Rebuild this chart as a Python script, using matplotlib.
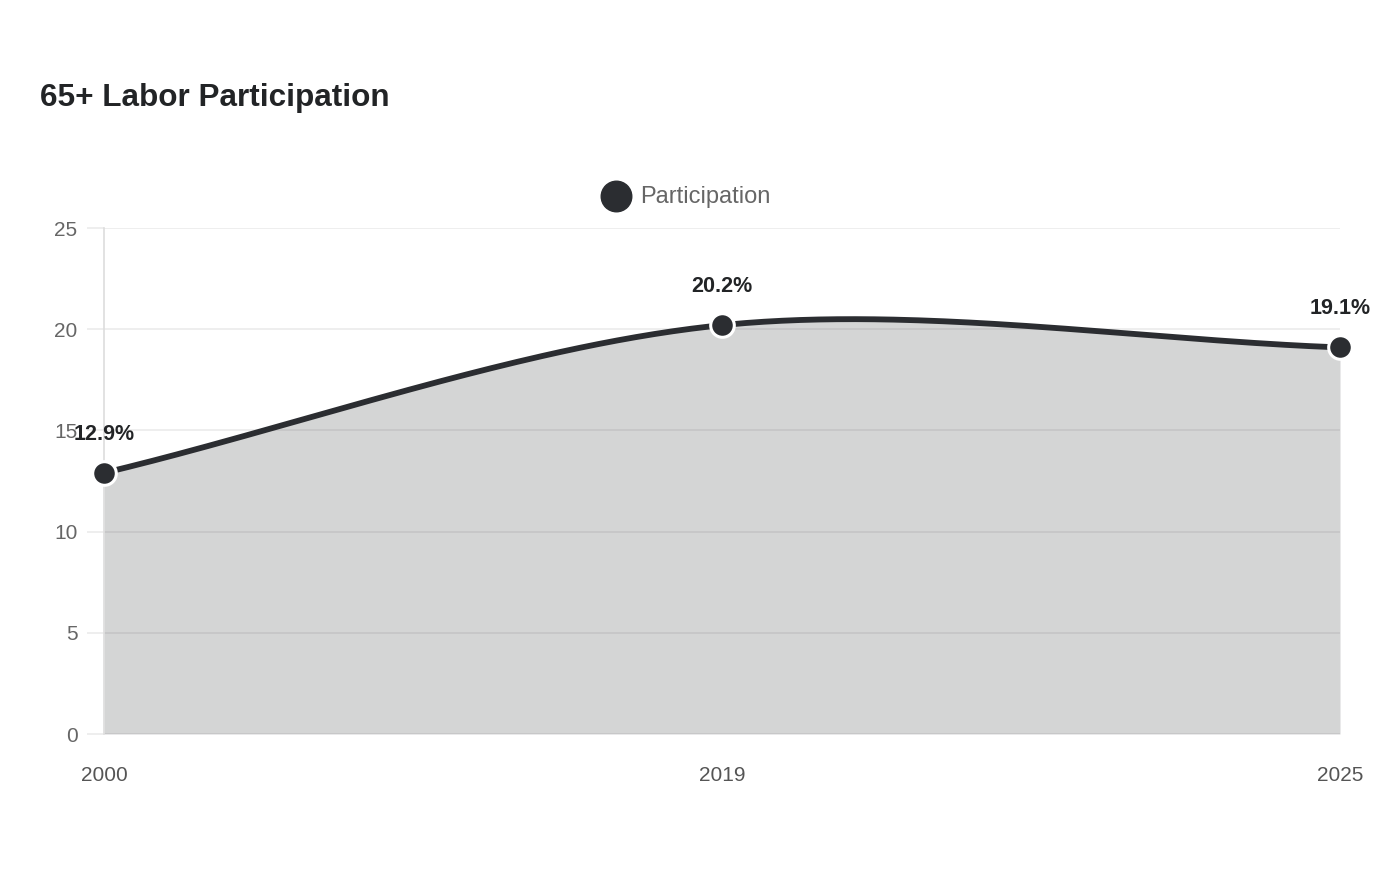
import numpy as np
import matplotlib.pyplot as plt
from matplotlib.lines import Line2D

plt.rcParams['font.family'] = ['Liberation Sans', 'DejaVu Sans']

years = ['2000', '2019', '2025']
participation = [12.9, 20.2, 19.1]
y_ticks = [0, 5, 10, 15, 20, 25]

line_color = '#2b2d31'
W, H = 1400, 880

fig = plt.figure(figsize=(14, 8.8), dpi=100)
ax = fig.add_axes([104 / W, 1 - 734 / H, 1236 / W, 506 / H])
xs = np.arange(len(years))
ax.set_xlim(0, len(years) - 1)
ax.set_ylim(0, 25)

# chart.js style spline computed in pixel space
pts = ax.transData.transform(np.column_stack([xs, participation]))
t = 0.32
prev_cp, next_cp = [], []
for i in range(len(pts)):
    p0 = pts[i - 1] if i > 0 else pts[i]
    p1 = pts[i]
    p2 = pts[i + 1] if i < len(pts) - 1 else pts[i]
    d01 = np.hypot(*(p1 - p0))
    d12 = np.hypot(*(p2 - p1))
    s01 = d01 / (d01 + d12)
    s12 = d12 / (d01 + d12)
    prev_cp.append(p1 - t * s01 * (p2 - p0))
    next_cp.append(p1 + t * s12 * (p2 - p0))

curve = []
u = np.linspace(0, 1, 100)[:, None]
for i in range(len(pts) - 1):
    a, b, c, d = pts[i], next_cp[i], prev_cp[i + 1], pts[i + 1]
    seg = (1 - u) ** 3 * a + 3 * (1 - u) ** 2 * u * b + 3 * (1 - u) * u ** 2 * c + u ** 3 * d
    curve.append(seg if i == 0 else seg[1:])
curve = ax.transData.inverted().transform(np.vstack(curve))

ax.fill_between(curve[:, 0], 0, curve[:, 1], color=line_color, alpha=0.2, linewidth=0, zorder=2)
ax.plot(curve[:, 0], curve[:, 1], color=line_color, lw=4.2, solid_capstyle='round', zorder=3)
ax.scatter(xs, participation, s=17 ** 2, color=line_color, edgecolor='white', linewidth=2.2, zorder=4, clip_on=False)

for x, v in zip(xs, participation):
    ax.annotate(f'{v}%', (x, v), xytext=(0, 28), textcoords='offset points',
                ha='center', va='center', fontsize=15.5, fontweight='bold', color='#222426', zorder=5)

ax.set_xticks(xs)
ax.set_xticklabels(years)
ax.set_yticks(y_ticks)
ax.grid(axis='y', color='#ebebeb', lw=1.2, zorder=1)
ax.set_axisbelow(True)
for s in ['top', 'right', 'bottom']:
    ax.spines[s].set_visible(False)
ax.spines['left'].set_color('#dddddd')
ax.spines['left'].set_linewidth(1.2)
ax.tick_params(axis='y', length=12, color='#ebebeb', width=1.2, pad=7, labelsize=15, labelcolor='#666666')
ax.tick_params(axis='x', length=0, pad=23, labelsize=15, labelcolor='#555555')

fig.text(40 / W, 1 - 98 / H, '65+ Labor Participation', fontsize=22.7, fontweight='bold',
         color='#222426', ha='left', va='center')

fig.add_artist(Line2D([616 / W], [1 - 196 / H], marker='o', markersize=22, color=line_color, linestyle='none'))
fig.text(640 / W, 1 - 197 / H, 'Participation', fontsize=17, color='#666666', ha='left', va='center')

fig.savefig('out.png', dpi=100, facecolor='white')
